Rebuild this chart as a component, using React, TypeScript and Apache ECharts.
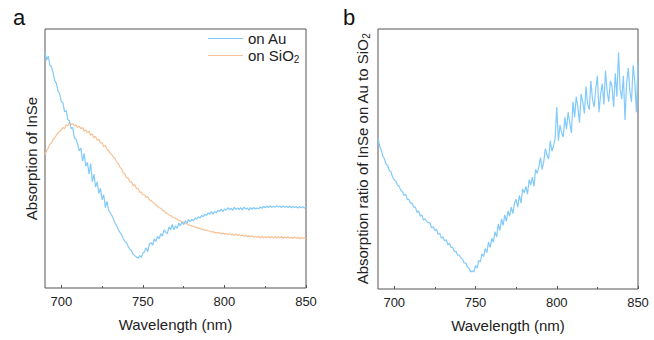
import { useEffect, useRef } from "react";
import * as echarts from "echarts";

// Sampling grid of the spectra (nm)
const wavelengths: number[] = Array.from({ length: 161 }, (_, i) => 690 + i);

const xTickLabels = [700, 750, 800, 850];
const xMinorTicks = [725, 775, 825];

// Panel a: absorption of InSe on Au (arb. units)
const absorptionAu = [
  91,
  88, 89.5, 86, 85.5, 83, 80, 79, 76, 75, 72,
  71.5, 68, 68.5, 65, 64.5, 61.5, 62, 58, 57.5, 55.5,
  53, 54, 49, 52, 47, 48.5, 44, 48, 41, 44,
  39, 41, 36.5, 38.5, 34, 36, 31, 33.5, 30, 29,
  28, 26.5, 25, 24, 22.5, 21.5, 20.5, 19, 18, 17.5,
  16, 15, 14.5, 13, 12.5, 12, 11.5, 12.5, 11.8, 13.5,
  14, 15.5, 14, 17, 17.5, 16.5, 19, 18, 20, 19,
  21, 20, 22.5, 21.5, 21, 23.5, 22.5, 24.5, 22.5, 24,
  23, 25, 24, 25.5, 24.5, 26, 25, 26.5, 25.5, 26.5,
  26, 27, 26.5, 27.5, 27, 28, 27.5, 28.5, 28, 29,
  28.5, 29.5, 28.5, 29.5, 29, 30, 29.5, 30.5, 29.5, 30.5,
  30, 31, 30.2, 30.8, 30, 31.2, 30.4, 30.9, 30.3, 31,
  30.2, 31.2, 30.5, 30.9, 30.1, 31, 30.4, 31.1, 30.5, 30.9,
  30.6, 31.3, 30.8, 31.5, 31, 31.6, 31.1, 31.7, 31.2, 31.6,
  31.2, 31.8, 31.3, 31.6, 31.1, 31.7, 31.2, 31.5, 31.1, 31.6,
  31, 31.5, 31.1, 31.4, 30.9, 31.5, 31, 31.4, 30.9, 31.2,
];

// Panel a: absorption of InSe on SiO2
const absorptionSiO2 = [
  51.5,
  53, 54, 55.5, 56, 57.5, 58, 59, 60, 60.5, 61,
  62, 61.5, 63, 62.5, 64, 63, 63.5, 62.5, 63, 62,
  62.5, 61.5, 62, 60.5, 61, 60, 60.5, 59, 59.5, 58,
  58.5, 57, 57.5, 56, 56, 54.5, 55, 53.5, 53, 52,
  51.5, 50.5, 50, 48.5, 48, 46.5, 46, 44.5, 44, 42.5,
  42.5, 41, 41, 39.5, 40, 38.5, 38.5, 37, 37, 36,
  36, 35, 35.2, 34, 33.8, 33, 32.8, 32, 31.6, 31,
  30.8, 30, 29.8, 29, 28.8, 28.2, 28, 27.4, 27.2, 26.8,
  26.6, 26, 26, 25.4, 25.4, 24.8, 24.9, 24.3, 24.3, 24,
  23.9, 23.4, 23.5, 23, 23.1, 22.6, 22.7, 22.2, 22.4, 22,
  22, 21.6, 21.8, 21.3, 21.5, 21.1, 21.4, 20.9, 21.2, 20.8,
  21.1, 20.6, 21, 20.5, 20.9, 20.4, 20.8, 20.3, 20.6, 20.2,
  20.5, 20, 20.4, 19.8, 20.3, 19.8, 20.2, 19.6, 20, 19.6,
  20, 19.4, 19.9, 19.3, 19.8, 19.4, 19.9, 19.3, 19.8, 19.4,
  19.9, 19.3, 19.8, 19.4, 19.9, 19.2, 19.7, 19.3, 19.8, 19.2,
  19.6, 19.1, 19.7, 19.2, 19.6, 19, 19.5, 19.1, 19.4, 19,
];

// Panel b: absorption ratio Au / SiO2
const absorptionRatio = [
  58,
  55, 53.5, 51, 50, 48, 47.5, 45.5, 45, 43, 42,
  41.5, 40, 39.5, 38, 37.5, 36, 36.5, 34.5, 34.5, 33,
  33, 31.5, 31.5, 29.5, 30, 28, 28.5, 26.5, 27, 26,
  25.5, 25.5, 23.5, 24, 22.5, 23, 21, 21.5, 19.5, 20,
  18.5, 19, 17, 17.5, 16, 16, 14.5, 14.5, 13, 13,
  12, 11.5, 10, 10, 8.5, 8, 6.5, 7, 6.5, 9,
  8, 11, 10.5, 13.5, 12.5, 15.5, 14, 18, 16, 19.5,
  18, 22, 20, 25, 22.5, 27, 24.5, 28.5, 26, 30,
  28, 31.5, 29, 33, 34.5, 31.5, 36, 33, 38.5, 37,
  39.5, 36.5, 42, 40, 43, 39.5, 46, 44.5, 47, 50.5,
  46, 49, 54, 51.5, 50, 57, 53, 55, 58, 70,
  57, 63, 60, 58.5, 66, 61.5, 68, 64, 60, 72,
  66, 74, 70, 64, 75, 72, 67.5, 78, 71, 69,
  80, 73, 70, 77, 82, 68, 75, 79, 71, 84,
  76, 72, 80, 78, 70, 83, 74, 91, 77, 73,
  82, 65, 79, 85, 76, 72, 86, 80, 68, 87,
];

const FONT = 'Arial, "Liberation Sans", sans-serif';
const TEXT = "#222";
const FRAME = "#555";
const BLUE = "#82CAFA";
const ORANGE = "#F7C196";

function pairs(values: number[]): number[][] {
  return values.map((v, i) => [wavelengths[i], v]);
}

function xAxes(gridIndex: number) {
  return [
    {
      gridIndex,
      type: "value",
      min: 690,
      max: 850,
      axisLine: { show: false },
      splitLine: { show: false },
      axisTick: {
        show: true,
        inside: true,
        length: 3,
        customValues: xTickLabels,
        lineStyle: { color: FRAME, width: 1 },
      },
      axisLabel: {
        customValues: xTickLabels,
        fontSize: 13,
        fontFamily: FONT,
        color: TEXT,
        margin: 7,
      },
      name: "Wavelength (nm)",
      nameLocation: "middle",
      nameGap: 29,
      nameTextStyle: { fontSize: 15, fontFamily: FONT, color: TEXT },
    },
    {
      gridIndex,
      type: "value",
      min: 690,
      max: 850,
      position: "bottom",
      axisLine: { show: false },
      splitLine: { show: false },
      axisTick: {
        show: true,
        inside: true,
        length: 2,
        customValues: xMinorTicks,
        lineStyle: { color: FRAME, width: 1 },
      },
      axisLabel: { show: false },
    },
  ];
}

const richSub = {
  n: { fontSize: 15, fontFamily: FONT, color: TEXT, lineHeight: 18, verticalAlign: "middle" },
  s: { fontSize: 10, fontFamily: FONT, color: TEXT, lineHeight: 10, verticalAlign: "bottom" },
};

export default function App() {
  const ref = useRef<HTMLDivElement>(null);

  useEffect(() => {
    document.body.style.margin = "0";
    if (!ref.current) return;
    const chart = echarts.init(ref.current, null, { renderer: "svg" });

    chart.setOption({
      animation: false,
      backgroundColor: "#fff",
      textStyle: { fontFamily: FONT },
      grid: [
        {
          left: 45,
          top: 29,
          width: 261,
          height: 259,
          show: true,
          borderColor: FRAME,
          borderWidth: 1,
          backgroundColor: "transparent",
        },
        {
          left: 378,
          top: 29,
          width: 260,
          height: 260,
          show: true,
          borderColor: FRAME,
          borderWidth: 1,
          backgroundColor: "transparent",
        },
      ],
      xAxis: [...xAxes(0), ...xAxes(1)],
      yAxis: [
        {
          gridIndex: 0,
          type: "value",
          min: 0,
          max: 100,
          axisLine: { show: false },
          axisTick: { show: false },
          axisLabel: { show: false },
          splitLine: { show: false },
          name: "Absorption of InSe",
          nameLocation: "middle",
          nameGap: 6,
          nameTextStyle: { fontSize: 15, fontFamily: FONT, color: TEXT },
        },
        {
          gridIndex: 1,
          type: "value",
          min: 0,
          max: 100,
          axisLine: { show: false },
          axisTick: { show: false },
          axisLabel: { show: false },
          splitLine: { show: false },
          name: "{n|Absorption ratio of InSe on Au to SiO}{s|2}",
          nameLocation: "middle",
          nameGap: 7,
          nameTextStyle: { fontSize: 15, fontFamily: FONT, color: TEXT, rich: richSub },
        },
      ],
      legend: {
        orient: "vertical",
        left: 208,
        top: 31,
        padding: 0,
        icon: "rect",
        itemWidth: 35,
        itemHeight: 1,
        itemGap: 2,
        data: ["on Au", "on SiO2"],
        formatter: (name: string) =>
          name === "on SiO2" ? "{n|on SiO}{s|2}" : "{n|on Au}",
        textStyle: { fontSize: 15, fontFamily: FONT, color: TEXT, rich: richSub },
      },
      graphic: [
        { type: "text", left: 13, top: 6, style: { text: "a", fontSize: 22, fontFamily: FONT, fill: "#111" } },
        { type: "text", left: 343, top: 6, style: { text: "b", fontSize: 22, fontFamily: FONT, fill: "#111" } },
      ],
      series: [
        {
          name: "on Au",
          type: "line",
          xAxisIndex: 0,
          yAxisIndex: 0,
          symbol: "none",
          data: pairs(absorptionAu),
          lineStyle: { color: BLUE, width: 1.2 },
          itemStyle: { color: BLUE },
          z: 3,
        },
        {
          name: "on SiO2",
          type: "line",
          xAxisIndex: 0,
          yAxisIndex: 0,
          symbol: "none",
          data: pairs(absorptionSiO2),
          lineStyle: { color: ORANGE, width: 1.2 },
          itemStyle: { color: ORANGE },
          z: 2,
        },
        {
          name: "ratio",
          type: "line",
          xAxisIndex: 2,
          yAxisIndex: 1,
          symbol: "none",
          data: pairs(absorptionRatio),
          lineStyle: { color: BLUE, width: 1.2 },
          itemStyle: { color: BLUE },
        },
      ],
    });

    return () => chart.dispose();
  }, []);

  return <div ref={ref} style={{ width: 654, height: 340 }} />;
}
